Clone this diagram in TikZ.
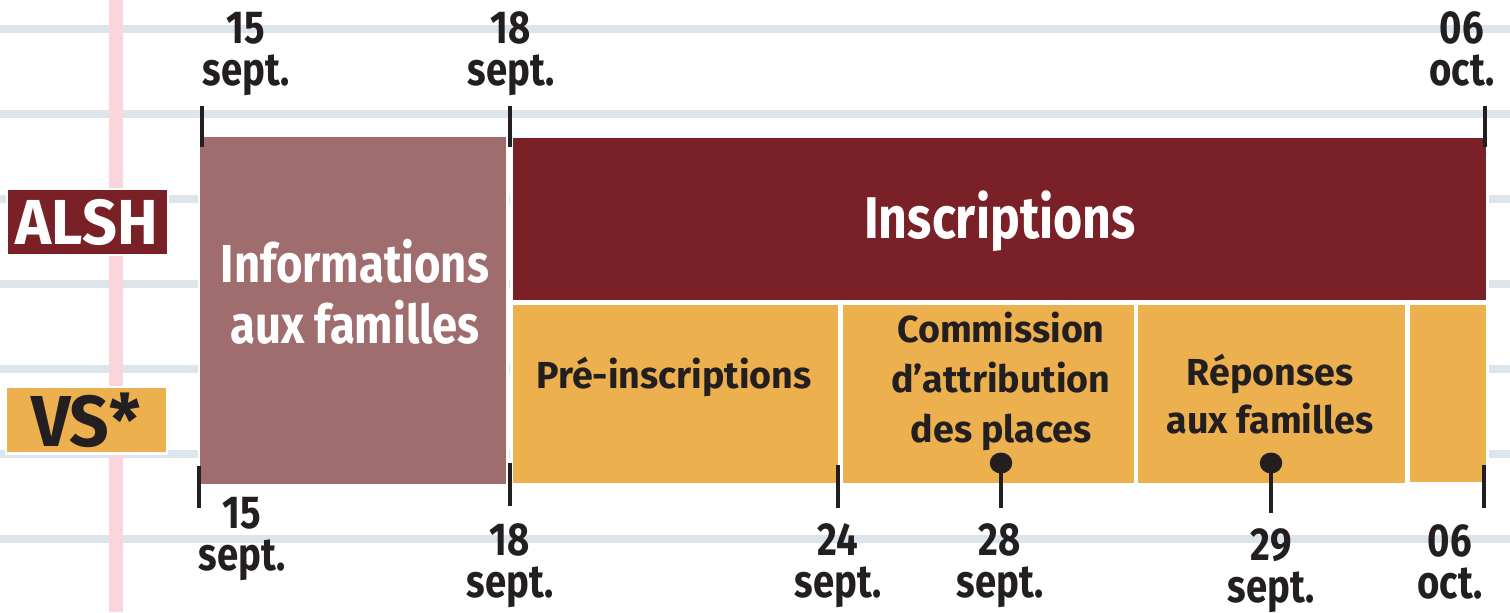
\documentclass[tikz,border=0pt]{standalone}
\usepackage{fontspec}
\usetikzlibrary{shapes.geometric}
\setmainfont{Fira Sans}
\newfontfamily\boxfont{Fira Sans}[FakeStretch=0.85]
\newfontfamily\datefont{Fira Sans}[FakeStretch=0.83]
\newfontfamily\labelfont{Fira Sans}[FakeStretch=0.96]

\definecolor{alshred}{HTML}{7A2128}
\definecolor{infomauve}{HTML}{A06D6E}
\definecolor{vsorange}{HTML}{ECB04E}
\definecolor{inkblack}{HTML}{231F20}
\definecolor{rulegrey}{HTML}{DCE4EC}
\definecolor{marginpink}{HTML}{FAD5DB}

\begin{document}
\begin{tikzpicture}[x=0.02cm, y=-0.02cm,
  every node/.style={inner sep=0pt, outer sep=0pt, text=inkblack},
  ruleline/.style={rulegrey, line width=4.8pt},
  marginline/.style={marginpink, line width=7.9pt},
  periodbox/.style={draw=white, line width=1.7pt},
  tickline/.style={inkblack, line width=2.8pt},
  pinhead/.style={ellipse, fill=inkblack, minimum width=0.45cm, minimum height=0.42cm},
  datetext/.style={anchor=base, align=center, font=\datefont\bfseries\fontsize{26.3}{23.8}\selectfont},
  bigtext/.style={anchor=base, align=center, text=white, font=\boxfont\bfseries\fontsize{30.4}{34.6}\selectfont},
  smalltext/.style={anchor=base, align=center, font=\bfseries\fontsize{21.4}{28.3}\selectfont}]

\useasboundingbox (0, 0) rectangle (1510, 612);

\draw[ruleline] (0, 29) -- (1510, 29);

\draw[ruleline] (0, 114) -- (1510, 114);

\draw[ruleline] (0, 199) -- (1510, 199);

\draw[ruleline] (0, 284) -- (1510, 284);

\draw[ruleline] (0, 369) -- (1510, 369);

\draw[ruleline] (0, 454) -- (1510, 454);

\draw[ruleline] (0, 539) -- (1510, 539);

\draw[marginline] (116, 0) -- (116, 612);

\draw[periodbox, fill=alshred] (7, 189) rectangle (168, 255);
\draw (87, 244) node[anchor=base, text=white, font=\labelfont\bfseries\fontsize{36.2}{40}\selectfont] (alsh) {ALSH};

\draw[periodbox, fill=vsorange] (6, 387) rectangle (167, 453);
\draw (86, 446) node[anchor=base, font=\labelfont\bfseries\fontsize{41.1}{44}\selectfont] (vs) {VS*};

\draw[periodbox, fill=infomauve] (199, 136) rectangle (507, 485);
\draw (355, 343) node[bigtext] (info) {Informations\\aux familles};

\draw[periodbox, fill=alshred] (511, 137) rectangle (1487, 301);
\draw (1000, 238) node[bigtext, font=\boxfont\bfseries\fontsize{33.5}{36}\selectfont] (inscr) {Inscriptions};

\draw[periodbox, fill=vsorange] (511, 304) rectangle (839, 484);
\draw (674, 388) node[smalltext] (preinscr) {Pré-inscriptions};

\draw[periodbox, fill=vsorange] (841, 304) rectangle (1135, 484);
\draw (1001, 442) node[smalltext] (commission) {Commission\\d’attribution\\des places};

\draw[periodbox, fill=vsorange] (1136, 304) rectangle (1406, 484);
\draw (1270, 433) node[smalltext, font=\bfseries\fontsize{21.4}{27.2}\selectfont] (reponses) {Réponses\\aux familles};

\draw[periodbox, fill=vsorange] (1408, 304) rectangle (1487, 483);

\draw[tickline] (202, 106) -- (202, 147);

\draw[tickline] (510, 106) -- (510, 147);

\draw[tickline] (1485, 106) -- (1485, 147);

\draw (246, 85) node[datetext] (t15) {15\\sept.};

\draw (511, 85) node[datetext] (t18) {18\\sept.};

\draw (1462, 85) node[datetext] (t06) {06\\oct.};

\draw[tickline] (199, 466) -- (199, 508);

\draw[tickline] (510, 463) -- (510, 506);

\draw[tickline] (838, 465) -- (838, 508);

\draw[tickline] (1484, 465) -- (1484, 508);

\coordinate (p28end) at (1001, 508);
\draw (1001, 463) node[pinhead] (p28){};
\draw[tickline, line width=2.3pt] (p28.center) -- (p28end);

\coordinate (p29end) at (1271, 513);
\draw (1271, 463) node[pinhead] (p29){};
\draw[tickline, line width=2.3pt] (p29.center) -- (p29end);

\draw (242, 570) node[datetext] (b15) {15\\sept.};

\draw (510, 597) node[datetext] (b18) {18\\sept.};

\draw (838, 597) node[datetext] (b24) {24\\sept.};

\draw (1000, 597) node[datetext] (b28) {28\\sept.};

\draw (1271, 602) node[datetext] (b29) {29\\sept.};

\draw (1450, 598) node[datetext] (b06) {06\\oct.};
\end{tikzpicture}
\end{document}
